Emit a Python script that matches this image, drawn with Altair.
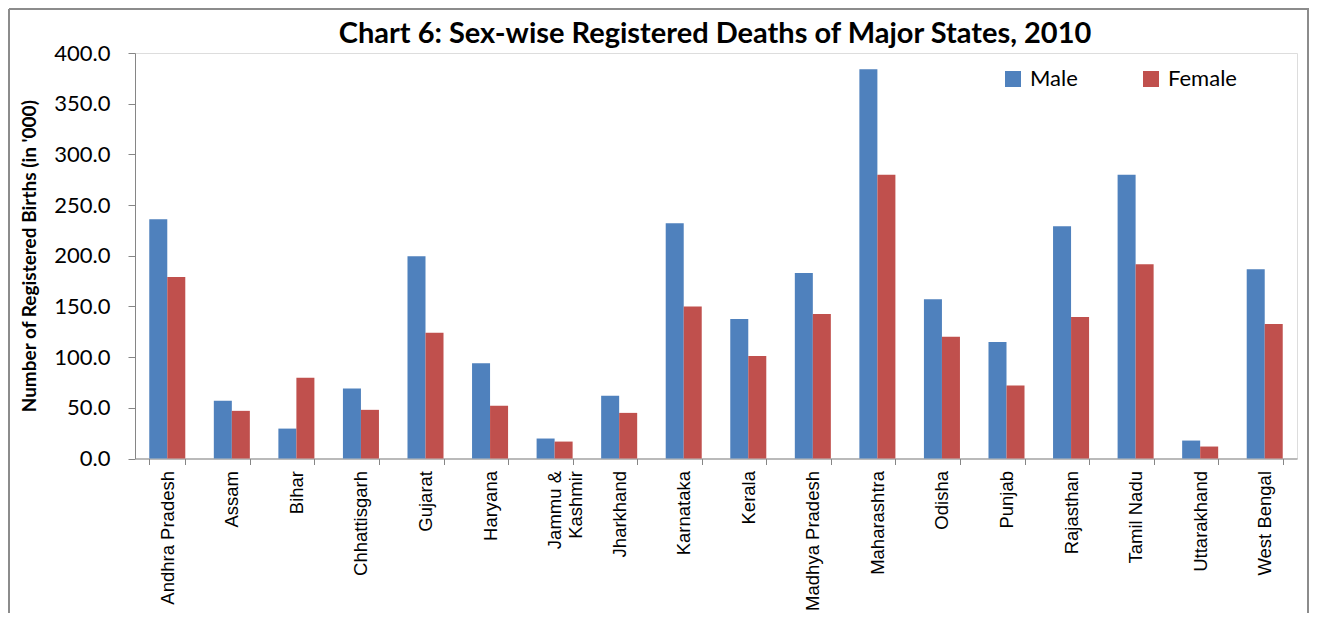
import altair as alt
import pandas as pd

states = ["Andhra Pradesh", "Assam", "Bihar", "Chhattisgarh", "Gujarat", "Haryana",
          "Jammu & Kashmir", "Jharkhand", "Karnataka", "Kerala", "Madhya Pradesh",
          "Maharashtra", "Odisha", "Punjab", "Rajasthan", "Tamil Nadu", "Uttarakhand",
          "West Bengal"]
male = [236.0, 57.0, 29.5, 69.0, 199.5, 94.0, 19.7, 62.0, 232.0, 137.6, 183.0,
        384.0, 157.0, 115.0, 229.0, 280.0, 17.7, 186.7]
female = [179.0, 47.0, 79.6, 48.0, 124.0, 52.0, 16.7, 45.0, 150.0, 101.0, 142.5,
          280.0, 120.0, 72.0, 139.6, 191.6, 11.8, 132.7]
series = ["Male", "Female"]
colors = ["#4F81BD", "#C0504D"]
y_ticks = [0, 50, 100, 150, 200, 250, 300, 350, 400]
title_text = ["Chart 6: Sex-wise Registered Deaths of Major States, 2010"]

rows = []
for s, m, f in zip(states, male, female):
    rows.append({"state": s, "sex": "Male", "value": m})
    rows.append({"state": s, "sex": "Female", "value": f})
df = pd.DataFrame(rows)

W, H = 1162, 405.5

bars = alt.Chart(df).mark_bar().encode(
    x=alt.X("state:N", sort=states,
            scale=alt.Scale(paddingInner=0.442, paddingOuter=0.221),
            axis=alt.Axis(title=None, labelAngle=270, labelAlign="right",
                          labelBaseline="middle", labelFont="Liberation Sans",
                          labelFontSize=18.5, labelColor="#000000",
                          labelPadding=6, tickSize=6, tickBand="extent",
                          domainColor="#868686", tickColor="#868686",
                          labelLineHeight=21,
                          labelExpr="datum.value == 'Jammu & Kashmir' ? ['Jammu &', 'Kashmir'] : datum.value")),
    xOffset=alt.XOffset("sex:N", sort=series),
    y=alt.Y("value:Q", scale=alt.Scale(domain=[0, 400], nice=False),
            axis=alt.Axis(values=y_ticks, format=".1f", grid=False,
                          title="Number of Registered Births (in '000)",
                          titleFont="Lato", titleFontSize=19, titleFontWeight="bold",
                          titleColor="#000000", titleAngle=270,
                          titleX=-106, titleY=H / 2, titleAlign="center",
                          titleBaseline="middle",
                          labelFont="Lato", labelFontSize=22, labelColor="#000000",
                          labelPadding=18, tickSize=7,
                          domainColor="#868686", tickColor="#868686")),
    color=alt.Color("sex:N", sort=series,
                    scale=alt.Scale(domain=series, range=colors),
                    legend=alt.Legend(title=None, orient="none", legendX=867, legendY=15,
                                      direction="horizontal", symbolType="square",
                                      symbolSize=256, symbolStrokeWidth=0,
                                      labelFont="Lato", labelFontSize=22,
                                      labelColor="#000000", labelOffset=6,
                                      columnPadding=62)),
)

title = alt.Chart(pd.DataFrame({"t": title_text})).mark_text(
    font="Lato", fontSize=29, fontWeight="bold", color="#000000",
    align="center", baseline="alphabetic",
).encode(text="t:N", x=alt.value(580), y=alt.value(-10))

border = alt.Chart(pd.DataFrame({"k": [0]})).mark_rule(color="#8c8c8c", strokeWidth=2)
left_b = border.encode(x=alt.value(-126), y=alt.value(-44), y2=alt.value(H + 170))
top_b = border.encode(x=alt.value(-126), x2=alt.value(W + 12), y=alt.value(-44))
right_b = border.encode(x=alt.value(W + 11), y=alt.value(-44), y2=alt.value(H + 170))

chart = alt.layer(bars, title, left_b, top_b, right_b).properties(
    width=W, height=H,
    autosize=alt.AutoSizeParams(type="none"),
    padding={"left": 127, "top": 45, "right": 12, "bottom": 154},
).configure_view(stroke=None).configure(background="white")

chart.save("out.html", embed_options={"renderer": "svg", "actions": False})
